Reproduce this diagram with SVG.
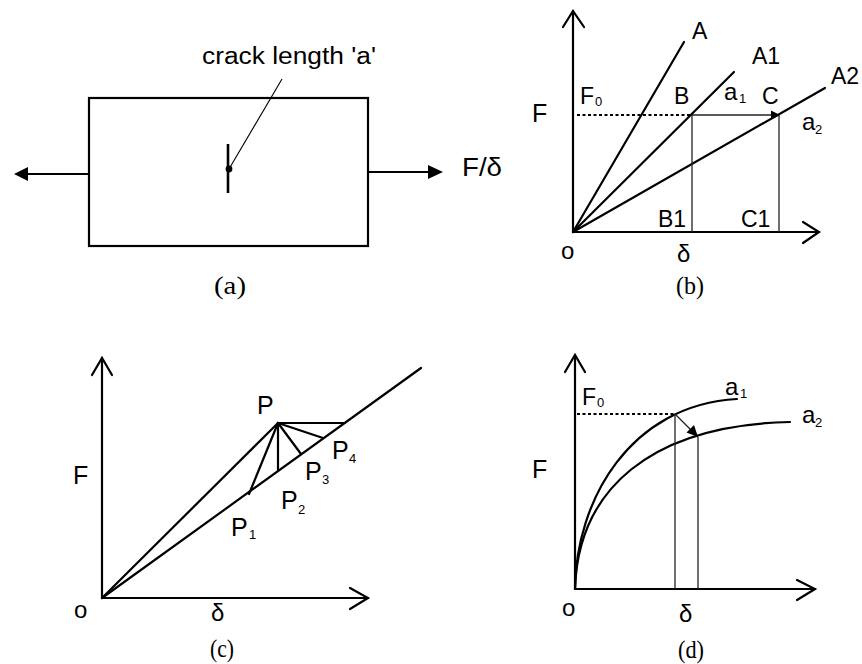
<svg xmlns="http://www.w3.org/2000/svg" width="862" height="664" viewBox="0 0 862 664">
<style>
.ln{stroke:#000;stroke-width:2.2;fill:none;stroke-linecap:round}
.th{stroke:#222;stroke-width:1.3;fill:none}
.dash{stroke:#000;stroke-width:1.8;stroke-dasharray:3 2.5;fill:none}
.s{font-family:"Liberation Sans",Arial,sans-serif;fill:#000}
.t{font-family:"Liberation Serif","Times New Roman",serif;fill:#000;font-size:25px;text-anchor:middle}
.sub{font-family:"Liberation Sans",Arial,sans-serif;fill:#000;font-size:13px}
</style>
<rect width="862" height="664" fill="#fff"/>

<!-- Panel (a) -->
<g id="panel-a">
  <g id="plate"><rect x="89" y="98" width="279" height="148" fill="none" stroke="#000" stroke-width="2.2"/></g>
  <g id="crack">
    <line x1="228" y1="144" x2="228" y2="193" stroke="#000" stroke-width="2.6"/>
    <circle cx="229" cy="169" r="3.4" fill="#000"/>
  </g>
  <g id="crack-label">
    <text class="s" x="202" y="64" font-size="23" textLength="174" lengthAdjust="spacingAndGlyphs">crack length 'a'</text>
  </g>
  <text class="s" x="462" y="176" font-size="26" textLength="40" lengthAdjust="spacingAndGlyphs">F/δ</text>
  <text class="t" x="230" y="294" textLength="32" lengthAdjust="spacingAndGlyphs">(a)</text>
</g>

<g id="connectors">
  <line x1="229" y1="169" x2="282" y2="79" stroke="#000" stroke-width="1.1"/>
  <line x1="89" y1="174" x2="26" y2="174" stroke="#000" stroke-width="1.8"/>
  <polygon points="14,174 28,167 28,181" fill="#000"/>
  <line x1="368" y1="172" x2="430" y2="172" stroke="#000" stroke-width="1.8"/>
  <polygon points="443,172 428,165 428,179" fill="#000"/>
</g>

<!-- Panel (b) -->
<g id="panel-b">
  <g id="b-axes">
    <line class="ln" x1="573" y1="232" x2="573" y2="11"/>
    <polyline class="ln" points="563,27 573,11 584,27"/>
    <line class="ln" x1="573" y1="232" x2="819" y2="232"/>
    <polyline class="ln" points="803,222 819,232 803,243"/>
  </g>
  <g id="b-lines">
    <line class="ln" x1="573" y1="232" x2="684" y2="42"/>
    <line class="ln" x1="573" y1="232" x2="734" y2="72"/>
    <line class="ln" x1="573" y1="232" x2="825" y2="88"/>
    <line class="dash" x1="577" y1="115" x2="692" y2="115"/>
    <line class="th" x1="692" y1="115" x2="772" y2="115"/>
    <polygon points="780,115 771,110.5 771,119.5" fill="#000"/>
    <line class="th" x1="692" y1="115" x2="692" y2="232"/>
    <line class="th" x1="779" y1="115" x2="779" y2="232"/>
  </g>
  <g id="b-labels">
    <text class="s" x="532" y="122" font-size="25">F</text>
    <text class="s" x="692" y="39" font-size="23">A</text>
    <text class="s" x="752" y="64" font-size="23">A1</text>
    <text class="s" x="831" y="84" font-size="23">A2</text>
    <text class="s" x="580" y="104" font-size="23">F</text><text class="sub" x="595" y="106">0</text>
    <text class="s" x="674" y="104" font-size="23">B</text>
    <text class="s" x="724" y="100" font-size="24">a</text><text class="sub" x="739" y="103">1</text>
    <text class="s" x="762" y="104" font-size="23">C</text>
    <text class="s" x="802" y="130" font-size="24">a</text><text class="sub" x="815" y="134">2</text>
    <text class="s" x="658" y="227" font-size="23">B1</text>
    <text class="s" x="741" y="227" font-size="23">C1</text>
    <text class="s" x="561" y="259" font-size="24">o</text>
    <text class="s" x="677" y="262" font-size="24">δ</text>
    <text class="t" x="690" y="294" textLength="28" lengthAdjust="spacingAndGlyphs">(b)</text>
  </g>
</g>

<!-- Panel (c) -->
<g id="panel-c">
  <g id="c-axes">
    <line class="ln" x1="102" y1="598" x2="102" y2="358"/>
    <polyline class="ln" points="92,375 102,358 112,375"/>
    <line class="ln" x1="102" y1="598" x2="368" y2="598"/>
    <polyline class="ln" points="350,588 368,598 350,609"/>
  </g>
  <g id="c-lines">
    <line class="ln" x1="102" y1="598" x2="421" y2="368"/>
    <line class="ln" x1="102" y1="598" x2="278" y2="423"/>
    <line class="ln" x1="278" y1="423" x2="345" y2="423"/>
    <line class="ln" x1="278" y1="423" x2="249" y2="494"/>
    <line class="ln" x1="278" y1="423" x2="278" y2="471"/>
    <line class="ln" x1="278" y1="423" x2="301" y2="454"/>
    <line class="ln" x1="278" y1="423" x2="323" y2="438"/>
  </g>
  <g id="c-labels">
    <text class="s" x="257" y="414" font-size="25">P</text>
    <text class="s" x="73" y="484" font-size="25">F</text>
    <text class="s" x="231" y="536" font-size="25">P</text><text class="sub" x="249" y="539">1</text>
    <text class="s" x="281" y="509" font-size="25">P</text><text class="sub" x="298" y="514">2</text>
    <text class="s" x="305" y="480" font-size="25">P</text><text class="sub" x="322" y="484">3</text>
    <text class="s" x="332" y="459" font-size="25">P</text><text class="sub" x="349" y="463">4</text>
    <text class="s" x="74" y="618" font-size="24">o</text>
    <text class="s" x="211" y="621" font-size="24">δ</text>
    <text class="t" x="222" y="657" textLength="24" lengthAdjust="spacingAndGlyphs">(c)</text>
  </g>
</g>

<!-- Panel (d) -->
<g id="panel-d">
  <g id="d-axes">
    <line class="ln" x1="575" y1="589" x2="575" y2="355"/>
    <polyline class="ln" points="565,372 575,355 585,372"/>
    <line class="ln" x1="575" y1="589" x2="815" y2="589"/>
    <polyline class="ln" points="797,580 815,589 797,600"/>
  </g>
  <g id="d-curves">
    <path class="ln" d="M575,589 C576,500 630,405 737,399"/>
    <path class="ln" d="M575,589 C578,490 650,425 790,422"/>
    <line class="dash" x1="577" y1="414" x2="675" y2="414"/>
    <line class="th" x1="675" y1="414" x2="675" y2="589"/>
    <line class="th" x1="698" y1="437" x2="698" y2="589"/>
    <line class="th" x1="675" y1="414" x2="692" y2="431"/>
    <polygon points="698,437 686.5,432.5 694,425" fill="#000"/>
  </g>
  <g id="d-labels">
    <text class="s" x="532" y="478" font-size="25">F</text>
    <text class="s" x="582" y="405" font-size="23">F</text><text class="sub" x="597" y="407">0</text>
    <text class="s" x="725" y="395" font-size="24">a</text><text class="sub" x="740" y="398">1</text>
    <text class="s" x="802" y="423" font-size="24">a</text><text class="sub" x="815" y="427">2</text>
    <text class="s" x="562" y="616" font-size="24">o</text>
    <text class="s" x="679" y="622" font-size="24">δ</text>
    <text class="t" x="691" y="658" textLength="26" lengthAdjust="spacingAndGlyphs">(d)</text>
  </g>
</g>
</svg>
